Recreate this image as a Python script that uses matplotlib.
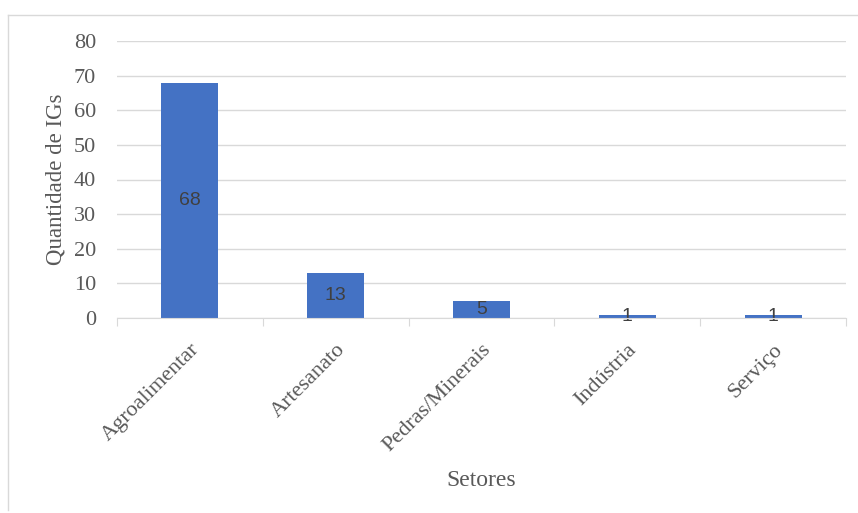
import matplotlib
matplotlib.use("Agg")
import matplotlib.pyplot as plt
from matplotlib.lines import Line2D

categories = ["Agroalimentar", "Artesanato", "Pedras/Minerais", "Indústria", "Serviço"]
values = [68, 13, 5, 1, 1]
yticks = [0, 10, 20, 30, 40, 50, 60, 70, 80]

W, H = 858, 513
fig = plt.figure(figsize=(W / 100, H / 100), dpi=100)
fig.patch.set_facecolor("white")

# chart border (light gray)
fig.add_artist(Line2D([8 / W, 8 / W], [1 - 510 / H, 1 - 15 / H], transform=fig.transFigure, color="#d9d9d9", lw=1))
fig.add_artist(Line2D([8 / W, 1.0], [1 - 15 / H, 1 - 15 / H], transform=fig.transFigure, color="#d9d9d9", lw=1))

left, right = 117 / W, 846 / W
bottom, top = 1 - 318 / H, 1 - 41 / H
ax = fig.add_axes([left, bottom, right - left, top - bottom])

x = list(range(len(categories)))
bars = ax.bar(x, values, width=0.39, color="#4472C4", zorder=3)

for xi, v in zip(x, values):
    ax.text(xi, v / 2, str(v), ha="center", va="center", fontsize=14,
            color="#404040", family="Liberation Sans", zorder=4)

ax.set_xlim(-0.5, len(categories) - 0.5)
ax.set_ylim(0, 80)
ax.set_yticks(yticks)
ax.set_yticklabels([str(t) for t in yticks], family="Liberation Serif", fontsize=16, color="#595959")
ax.yaxis.grid(True, color="#d9d9d9", lw=1, zorder=0)
ax.tick_params(axis="y", length=0, pad=15)

ax.set_xticks([i + 0.5 for i in range(-1, len(categories))], minor=False)
ax.set_xticklabels([])
ax.tick_params(axis="x", which="major", length=6, color="#d9d9d9", direction="out")
ax.set_xticks(x, minor=True)
ax.set_xticklabels(categories, minor=True, rotation=45, ha="right", rotation_mode="anchor",
                   family="Liberation Serif", fontsize=16, color="#595959")
ax.tick_params(axis="x", which="minor", length=0, pad=16)

for s in ["top", "right", "left"]:
    ax.spines[s].set_visible(False)
ax.spines["bottom"].set_color("#d9d9d9")
ax.spines["bottom"].set_zorder(5)

ax.set_ylabel("Quantidade de IGs", family="Liberation Serif", fontsize=16.5, color="#595959", labelpad=5)
fig.text((left + right) / 2, 1 - 480 / H, "Setores", ha="center", va="center",
         family="Liberation Serif", fontsize=17, color="#595959")

fig.savefig("out.png", dpi=100, facecolor="white")
